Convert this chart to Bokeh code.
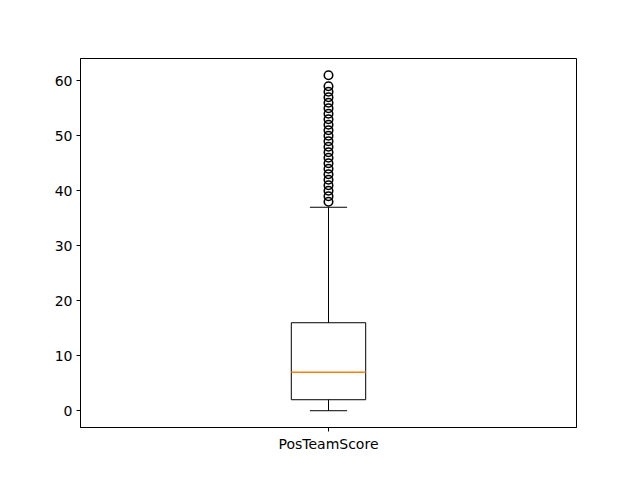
from bokeh.plotting import figure
from bokeh.models import Range1d, FixedTicker
from bokeh.embed import file_html
from bokeh.resources import INLINE

# Data
category = "PosTeamScore"
q1 = 2
median = 7
q3 = 16
whisker_low = 0
whisker_high = 37
outliers = [38, 39, 40, 41, 42, 43, 44, 45, 46, 47, 48, 49, 50, 51, 52, 53,
            54, 55, 56, 57, 58, 59, 61]
y_ticks = [0, 10, 20, 30, 40, 50, 60]

pos = 1.0
box_w = 0.15
cap_w = 0.075

p = figure(width=640, height=480, output_backend="svg", toolbar_location=None,
           x_range=Range1d(0.5, 1.5), y_range=Range1d(-3.05, 64.05),
           min_border_left=80, min_border_right=64, min_border_top=58,
           min_border_bottom=53)
p.background_fill_color = "white"
p.border_fill_color = "white"
p.outline_line_color = "black"
p.outline_line_width = 1
p.outline_line_alpha = 1
p.xgrid.visible = False
p.ygrid.visible = False

# box
p.quad(left=[pos - box_w / 2], right=[pos + box_w / 2], bottom=[q1], top=[q3],
       fill_color=None, line_color="black", line_width=1)
# median
p.segment(x0=[pos - box_w / 2], x1=[pos + box_w / 2], y0=[median], y1=[median],
          line_color="#ff7f0e", line_width=1.3)
# whiskers
p.segment(x0=[pos, pos], x1=[pos, pos], y0=[q1, q3], y1=[whisker_low, whisker_high],
          line_color="black", line_width=1)
# caps
p.segment(x0=[pos - cap_w / 2, pos - cap_w / 2], x1=[pos + cap_w / 2, pos + cap_w / 2],
          y0=[whisker_low, whisker_high], y1=[whisker_low, whisker_high],
          line_color="black", line_width=1)
# outliers
p.scatter(x=[pos] * len(outliers), y=outliers, size=8.5, marker="circle",
          fill_color=None, line_color="black", line_width=1.6)

for ax in (p.xaxis, p.yaxis):
    ax.axis_line_color = "black"
    ax.major_tick_line_color = "black"
    ax.major_tick_out = 4
    ax.major_tick_in = 0
    ax.minor_tick_line_color = None
    ax.major_label_text_font = "DejaVu Sans"
    ax.major_label_text_font_size = "14px"
    ax.major_label_text_color = "black"
    ax.major_label_standoff = 4

p.xaxis.ticker = FixedTicker(ticks=[pos])
p.xaxis.major_label_overrides = {1: category}
p.yaxis.ticker = FixedTicker(ticks=y_ticks)

open("out.html", "w").write(file_html(p, INLINE))
